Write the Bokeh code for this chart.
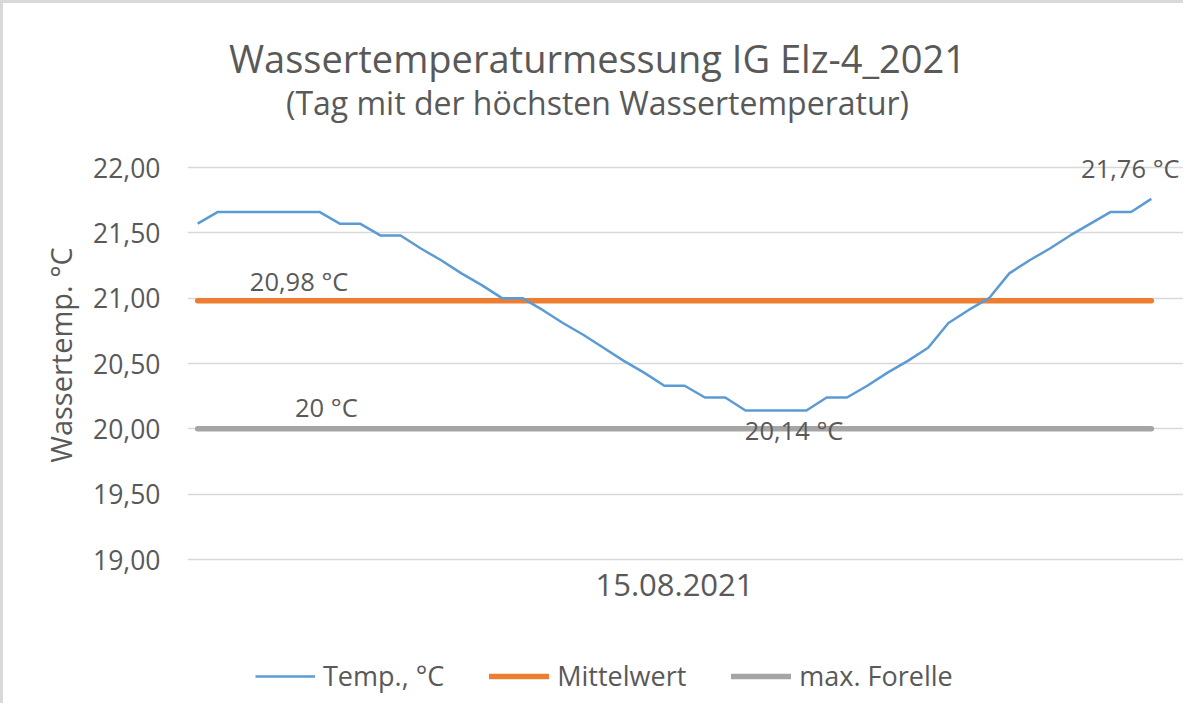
from bokeh.plotting import figure
from bokeh.models import Range1d, FixedTicker, Label, Legend, LegendItem
from bokeh.embed import file_html
from bokeh.resources import INLINE

# ---- data ----
title_text = "Wassertemperaturmessung IG Elz-4_2021"
subtitle_text = "(Tag mit der höchsten Wassertemperatur)"
date_label = "15.08.2021"
y_label = "Wassertemp. °C"

temps = [21.57, 21.66, 21.66, 21.66, 21.66, 21.66, 21.66, 21.57, 21.57, 21.48,
         21.48, 21.38, 21.29, 21.19, 21.10, 21.00, 21.00, 20.91, 20.81, 20.72,
         20.62, 20.52, 20.43, 20.33, 20.33, 20.24, 20.24, 20.14, 20.14, 20.14,
         20.14, 20.24, 20.24, 20.33, 20.43, 20.52, 20.62, 20.81, 20.91, 21.00,
         21.19, 21.29, 21.38, 21.48, 21.57, 21.66, 21.66, 21.76]
mean_value = 20.98
trout_max = 20.0
mittelwert = [mean_value] * len(temps)
forelle = [trout_max] * len(temps)

y_ticks = [19.0, 19.5, 20.0, 20.5, 21.0, 21.5, 22.0]
y_tick_labels = ["19,00", "19,50", "20,00", "20,50", "21,00", "21,50", "22,00"]
series_names = ["Temp., °C", "Mittelwert", "max. Forelle"]

BLUE = "#5B9BD5"
ORANGE = "#ED7D31"
GRAY = "#A5A5A5"
TXT = "#595959"
FONT = "Open Sans"

n = len(temps)
xs = list(range(n))

# ---- layout (pixels) ----
W, H = 1183, 703          # canvas size
LEFT = 184                # space for the y axis
PLOT_TOP, PLOT_H = 164, 392   # value area (19..22) inside the canvas
PLOT_W = 974                  # category area width
frame_w = W - LEFT
px_y = PLOT_H / (y_ticks[-1] - y_ticks[0])
px_x = PLOT_W / n
y_end = y_ticks[-1] + PLOT_TOP / px_y
y_start = y_ticks[0] - (H - PLOT_TOP - PLOT_H) / px_y
x_start = -0.5
x_end = x_start + frame_w / px_x

p = figure(width=W, height=H, output_backend="svg", toolbar_location=None,
           x_range=Range1d(x_start, x_end), y_range=Range1d(y_start, y_end),
           min_border_left=LEFT, min_border_right=0, min_border_top=0,
           min_border_bottom=0)
p.styles = {"border-top": "3px solid #D9D9D9", "border-left": "3px solid #D9D9D9"}
p.outline_line_color = None
p.background_fill_color = "white"
p.border_fill_color = "white"

# grid
p.xgrid.visible = False
p.ygrid.ticker = FixedTicker(ticks=y_ticks)
p.ygrid.grid_line_color = "#D9D9D9"
p.ygrid.grid_line_width = 1.3
p.ygrid.bounds = (x_start, n - 0.5)

# y axis
ya = p.yaxis[0]
ya.ticker = FixedTicker(ticks=y_ticks)
ya.bounds = (y_ticks[0], y_ticks[-1])
ya.major_label_overrides = {t: l for t, l in zip(y_ticks, y_tick_labels)}
ya.axis_line_color = None
ya.major_tick_line_color = None
ya.minor_tick_line_color = None
ya.major_label_standoff = 21
ya.major_label_text_font = FONT
ya.major_label_text_font_size = "26.5px"
ya.major_label_text_color = TXT
ya.axis_label = y_label
ya.axis_label_text_font = FONT
ya.axis_label_text_font_size = "29px"
ya.axis_label_text_font_style = "normal"
ya.axis_label_text_color = TXT
ya.axis_label_standoff = 10

# x axis (single category label in the middle), fixed at the lowest value
xa = p.xaxis[0]
mid = (n - 1) / 2
xa.fixed_location = y_ticks[0]
xa.ticker = FixedTicker(ticks=[mid])
xa.major_label_overrides = {mid: date_label}
xa.axis_line_color = None
xa.major_tick_line_color = None
xa.minor_tick_line_color = None
xa.major_label_standoff = 8
xa.major_label_text_font = FONT
xa.major_label_text_font_size = "31px"
xa.major_label_text_color = TXT

# series
r_temp = p.line(xs, temps, line_color=BLUE, line_width=2.5, line_join="round")
r_mean = p.line(xs, mittelwert, line_color=ORANGE, line_width=5.5, line_cap="round")
r_max = p.line(xs, forelle, line_color=GRAY, line_width=5.5, line_cap="round")
p.renderers = [r_mean, r_max, r_temp]


def fmt(v, dec=2):
    return f"{v:.{dec}f}".replace(".", ",") + " °C"


def add_label(x, y, text, xoff, yoff):
    p.add_layout(Label(x=x, y=y, text=text, x_offset=xoff, y_offset=yoff,
                       text_align="center", text_baseline="middle",
                       text_font=FONT, text_font_size="25.5px", text_color=TXT))


i_min = temps.index(min(temps)) + 2
i_max = temps.index(max(temps))
add_label(5, mean_value, fmt(mean_value), 0, 20)
add_label(6, trout_max, "20 °C", 7, 22)
add_label(i_min, temps[i_min], fmt(temps[i_min]), 8, -19)
add_label(i_max, temps[i_max], fmt(temps[i_max]), -21, 31)

# titles (screen units, measured from the frame's bottom-left corner)
p.add_layout(Label(x=410, y=649, x_units="screen", y_units="screen", text=title_text,
                   text_align="center", text_baseline="middle", text_font=FONT,
                   text_font_size="38px", text_color=TXT))
p.add_layout(Label(x=410, y=604, x_units="screen", y_units="screen", text=subtitle_text,
                   text_align="center", text_baseline="middle", text_font=FONT,
                   text_font_size="32px", text_color=TXT))

# legend at the bottom
legend = Legend(items=[LegendItem(label=series_names[0], renderers=[r_temp]),
                       LegendItem(label=series_names[1], renderers=[r_mean]),
                       LegendItem(label=series_names[2], renderers=[r_max])],
                orientation="horizontal", location=(68, 12),
                glyph_width=60, glyph_height=20, label_standoff=8, spacing=45,
                padding=0, margin=0, border_line_color=None,
                background_fill_alpha=0,
                label_text_font=FONT, label_text_font_size="27px",
                label_text_color=TXT)
p.add_layout(legend, "center")

open("out.html", "w").write(file_html(p, INLINE))
